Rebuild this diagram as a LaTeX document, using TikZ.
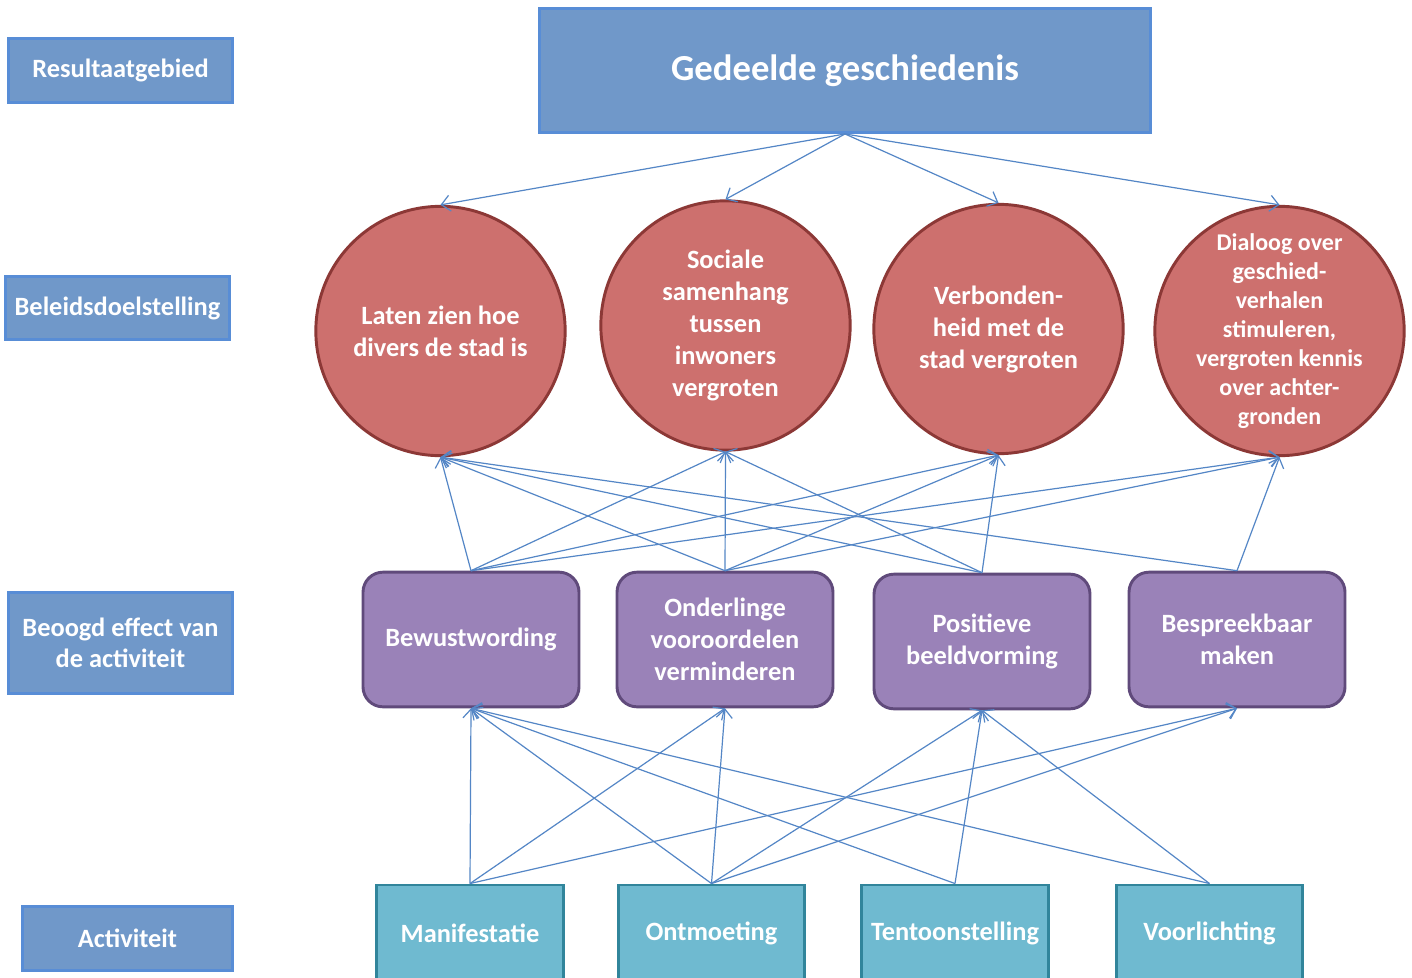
\documentclass[tikz,border=0pt]{standalone}
\usepackage{fontspec}
\setmainfont{Carlito}
\usetikzlibrary{arrows.meta}
\definecolor{bluefill}{RGB}{112,152,201}
\definecolor{blueline}{RGB}{88,141,214}
\definecolor{redfill}{RGB}{205,112,110}
\definecolor{redline}{RGB}{140,56,54}
\definecolor{purfill}{RGB}{154,130,184}
\definecolor{purline}{RGB}{96,74,123}
\definecolor{tealfill}{RGB}{111,186,208}
\definecolor{tealline}{RGB}{49,133,155}
\definecolor{arrowc}{RGB}{84,134,198}
\begin{document}
\begin{tikzpicture}[x=0.75pt,y=-0.75pt,
  lbl/.style={draw=blueline, fill=bluefill, line width=2.2pt, text=white, align=center, inner sep=0pt,
    font=\bfseries\fontsize{19.8}{23.5}\selectfont},
  goal/.style={circle, draw=redline, fill=redfill, line width=2.2pt, minimum size=187pt, inner sep=0pt,
    text=white, align=center, font=\bfseries\fontsize{19.8}{24}\selectfont},
  goaltext/.style={inner sep=0pt, text=white, align=center, font=\bfseries\fontsize{18}{21.75}\selectfont},
  effect/.style={draw=purline, fill=purfill, line width=2.2pt, rounded corners=15pt, minimum width=162pt,
    minimum height=101pt, inner sep=0pt, text=white, align=center, font=\bfseries\fontsize{19.8}{24}\selectfont},
  activity/.style={draw=tealline, fill=tealfill, line width=2.2pt, minimum width=140pt, minimum height=72pt,
    inner sep=0pt, text=white, align=center, font=\bfseries\fontsize{19.8}{22}\selectfont},
  arr/.style={draw=arrowc, line width=0.9pt, -{Straight Barb[length=6.5pt,width=12pt]}}
]
\clip (0,0) rectangle (1412,977);
\fill[white] (0,0) rectangle (1412,977);

% left labels
\node[lbl, minimum width=168pt, minimum height=48pt] (l1) at (120.5,70.5) {Resultaatgebied};
\node[lbl, minimum width=168pt, minimum height=47pt] (l2) at (117.5,308) {Beleidsdoelstelling};
\node[lbl, minimum width=168pt, minimum height=76pt] (l3) at (120.5,643) {Beoogd effect van\\de activiteit};
\node[lbl, minimum width=157pt, minimum height=48pt] (l4) at (127.5,938.5) {Activiteit};

% top
\node[lbl, minimum width=458pt, minimum height=93pt, font=\bfseries\fontsize{27.5}{30}\selectfont] (g) at (845,70.5) {Gedeelde geschiedenis};

% goals
\node[goal] (c1) at (440.5,331) {Laten zien hoe\\divers de stad is};
\node[goal] (c2) at (725.5,325.5) {Sociale\\samenhang\\tussen\\inwoners\\vergroten};
\node[goal] (c3) at (998.5,329) {Verbonden-\\heid met de\\stad vergroten};
\node[goal] (c4) at (1279.5,331) {};
\node[goaltext] (t4) at (c4.center) {Dialoog over\\geschied-\\verhalen\\stimuleren,\\vergroten kennis\\over achter-\\gronden};

% effects
\node[effect] (b1) at (471,639.5) {Bewustwording};
\node[effect] (b2) at (725,639.5) {Onderlinge\\vooroordelen\\verminderen};
\node[effect] (b3) at (982,641.5) {Positieve\\beeldvorming};
\node[effect] (b4) at (1237,639.5) {Bespreekbaar\\maken};

% activities
\node[activity] (a1) at (470,933) {Manifestatie};
\node[activity] (a2) at (711.5,933) {Ontmoeting};
\node[activity] (a3) at (955,933) {Tentoonstelling};
\node[activity] (a4) at (1209.5,933) {Voorlichting};

% connectors top
\foreach \c in {c1,c2,c3,c4} \draw[arr] (g.south) -- (\c.north);
% effects to goals
\foreach \b/\c in {b1/c1,b1/c2,b1/c3,b1/c4,b2/c1,b2/c2,b2/c3,b2/c4,b3/c1,b3/c2,b3/c3,b4/c1,b4/c4}
  \draw[arr] (\b.north) -- (\c.south);
% activities to effects
\foreach \a/\b in {a1/b1,a1/b2,a1/b4,a2/b1,a2/b2,a2/b3,a2/b4,a3/b1,a3/b3,a4/b1,a4/b3}
  \draw[arr] (\a.north) -- (\b.south);
\end{tikzpicture}
\end{document}
